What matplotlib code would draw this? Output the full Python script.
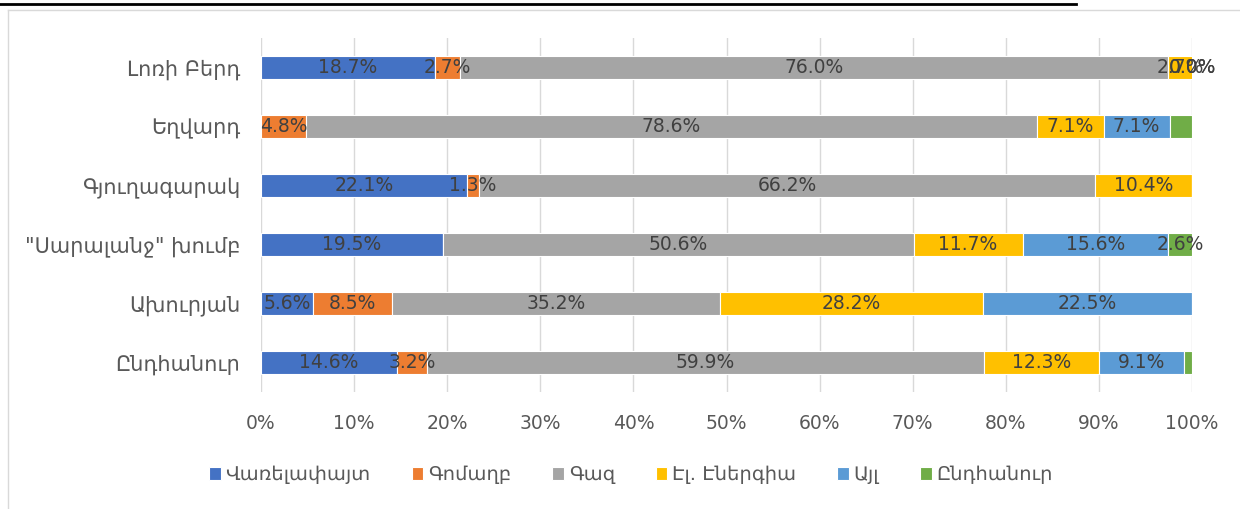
import matplotlib.pyplot as plt
from matplotlib.lines import Line2D
from matplotlib.ticker import PercentFormatter

plt.rcParams['font.family'] = ['DejaVu Sans']

categories = ["Լոռի Բերդ", "Եղվարդ", "Գյուղագարակ", "\"Սարալանջ\" խումբ", "Ախուրյան", "Ընդհանուր"]
series_names = ["Վառելափայտ", "Գոմաղբ", "Գազ", "Էլ. Էներգիա", "Այլ", "Ընդհանուր"]
colors = ["#4472C4", "#ED7D31", "#A5A5A5", "#FFC000", "#5B9BD5", "#70AD47"]

# None = empty cell (no bar, no label)
firewood = [18.7, None, 22.1, 19.5, 5.6, 14.6]
dung = [2.7, 4.8, 1.3, None, 8.5, 3.2]
gas = [76.0, 78.6, 66.2, 50.6, 35.2, 59.9]
electricity = [2.7, 7.1, 10.4, 11.7, 28.2, 12.3]
other = [0.0, 7.1, None, 15.6, 22.5, 9.1]
total = [0.0, 2.4, None, 2.6, None, 0.9]
series_values = [firewood, dung, gas, electricity, other, total]

# (category index, series index) whose label is not shown
hidden_labels = {(1, 5), (5, 5)}

W, H = 1240, 509
fig = plt.figure(figsize=(W / 100, H / 100), dpi=100)
ax = fig.add_axes([261 / W, 1 - 392 / H, (1192 - 261) / W, (392 - 38) / H])

ypos = list(range(len(categories)))[::-1]
left = [0.0] * len(categories)
for si, (name, vals, col) in enumerate(zip(series_names, series_values, colors)):
    widths = [v if v is not None else 0.0 for v in vals]
    bars = ax.barh(ypos, widths, left=left, height=0.4, color=col,
                   edgecolor="white", linewidth=0.8, label=name, zorder=2)
    for ci, (rect, v) in enumerate(zip(bars, vals)):
        if v is None or (ci, si) in hidden_labels:
            continue
        ax.text(rect.get_x() + rect.get_width() / 2, rect.get_y() + rect.get_height() / 2,
                f"{v:.1f}%", ha="center", va="center", fontsize=13.5, color="#404040", zorder=3)
    left = [l + w for l, w in zip(left, widths)]

ax.set_xlim(0, 100)
ax.set_ylim(-0.5, len(categories) - 0.5)
ax.set_xticks(range(0, 101, 10))
ax.xaxis.set_major_formatter(PercentFormatter(decimals=0))
ax.set_yticks(ypos)
ax.set_yticklabels(categories)
ax.grid(axis="x", color="#D9D9D9", linewidth=1, zorder=0)
ax.set_axisbelow(True)
for s in ax.spines.values():
    s.set_visible(False)
ax.tick_params(axis="x", length=0, pad=16, labelsize=13.5, labelcolor="#595959")
ax.tick_params(axis="y", length=0, pad=15, labelsize=15, labelcolor="#595959")

fig.legend(loc="center", bbox_to_anchor=(631 / W, 1 - 475 / H), ncol=6, frameon=False,
           fontsize=14, labelcolor="#595959", handlelength=0.6, handleheight=0.6,
           handletextpad=0.25, columnspacing=2.1)

# chart border and the cut-off underline above it
fig.add_artist(Line2D([7.5 / W, 7.5 / W], [0, 1 - 10 / H], color="#D9D9D9", linewidth=1))
fig.add_artist(Line2D([7.5 / W, 1], [1 - 10 / H, 1 - 10 / H], color="#D9D9D9", linewidth=1))
fig.add_artist(Line2D([0, 1076 / W], [1 - 3.5 / H, 1 - 3.5 / H], color="black", linewidth=2))

fig.savefig("out.png", dpi=100)
